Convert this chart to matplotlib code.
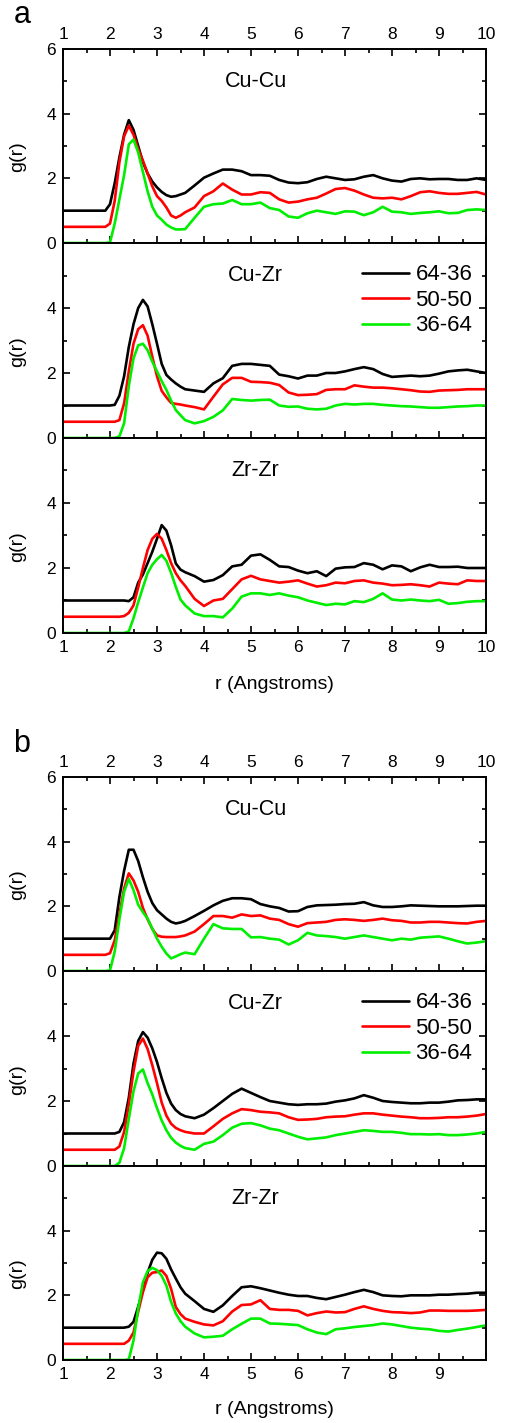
import numpy as np
import matplotlib
matplotlib.use('Agg')
import matplotlib.pyplot as plt
from matplotlib.ticker import MultipleLocator

plt.rcParams['font.family'] = ['Liberation Sans', 'DejaVu Sans']

# r grid (Angstroms) the curves were read at
r = [1.0, 1.9, 2.0, 2.1, 2.2, 2.3, 2.4, 2.5, 2.6, 2.7, 2.8, 2.9, 3.0, 3.1, 3.2, 3.3, 3.4, 3.5, 3.6,
     3.8, 4.0, 4.2, 4.4, 4.6, 4.8, 5.0, 5.2, 5.4, 5.6, 5.8, 6.0, 6.2, 6.4, 6.6, 6.8, 7.0,
     7.2, 7.4, 7.6, 7.8, 8.0, 8.2, 8.4, 8.6, 8.8, 9.0, 9.2, 9.4, 9.6, 9.8, 10.0]

labels = ['64-36', '50-50', '36-64']
colors = ['#000000', '#ff0000', '#00ee00']
pairs = ['Cu-Cu', 'Cu-Zr', 'Zr-Zr']

# ---- panel a ----
a_cucu_6436 = [1.0, 1.0, 1.2, 1.85, 2.65, 3.35, 3.8, 3.5, 3.0, 2.5, 2.15, 1.9, 1.72, 1.58, 1.48, 1.43, 1.45, 1.5, 1.55,
               1.78, 2.02, 2.15, 2.27, 2.27, 2.22, 2.1, 2.1, 2.08, 1.95, 1.87, 1.85, 1.88, 1.98, 2.05, 2.0, 1.95,
               1.97, 2.05, 2.1, 2.0, 1.93, 1.9, 1.98, 2.0, 1.97, 1.98, 1.98, 1.95, 1.95, 2.0, 1.95]
a_cucu_5050 = [0.5, 0.5, 0.6, 1.3, 2.5, 3.3, 3.63, 3.35, 2.9, 2.55, 2.15, 1.75, 1.45, 1.3, 1.1, 0.85, 0.78, 0.85, 0.95,
               1.1, 1.45, 1.6, 1.84, 1.65, 1.5, 1.5, 1.57, 1.55, 1.35, 1.25, 1.28, 1.35, 1.4, 1.53, 1.67, 1.7,
               1.62, 1.5, 1.4, 1.38, 1.4, 1.35, 1.45, 1.57, 1.6, 1.55, 1.52, 1.52, 1.55, 1.58, 1.5]
a_cucu_3664 = [0.0, 0.0, 0.02, 0.6, 1.35, 2.1, 3.05, 3.2, 2.8, 2.2, 1.6, 1.12, 0.85, 0.72, 0.57, 0.48, 0.42, 0.42, 0.43,
               0.78, 1.12, 1.2, 1.22, 1.33, 1.2, 1.2, 1.25, 1.08, 1.02, 0.82, 0.78, 0.92, 1.0, 0.95, 0.9, 0.98,
               0.97, 0.86, 0.95, 1.12, 0.97, 0.95, 0.9, 0.93, 0.95, 0.98, 0.92, 0.93, 1.02, 1.04, 1.02]

a_cuzr_6436 = [1.0, 1.0, 1.0, 1.02, 1.3, 1.9, 2.8, 3.5, 4.0, 4.25, 4.05, 3.5, 2.9, 2.28, 1.94, 1.8, 1.68, 1.58, 1.5,
               1.46, 1.42, 1.68, 1.84, 2.22, 2.28, 2.28, 2.25, 2.22, 1.95, 1.9, 1.83, 1.92, 1.92, 2.0, 2.0, 2.05,
               2.12, 2.18, 2.12, 1.97, 1.88, 1.9, 1.92, 1.9, 1.92, 1.98, 2.05, 2.08, 2.1, 2.05, 2.0]
a_cuzr_5050 = [0.5, 0.5, 0.5, 0.5, 0.55, 1.07, 2.05, 2.9, 3.35, 3.47, 3.15, 2.5, 1.9, 1.45, 1.25, 1.08, 1.05, 1.03, 1.0,
               0.95, 0.88, 1.27, 1.65, 1.85, 1.85, 1.73, 1.72, 1.7, 1.63, 1.4, 1.32, 1.33, 1.35, 1.48, 1.5, 1.5,
               1.62, 1.58, 1.55, 1.55, 1.53, 1.5, 1.47, 1.43, 1.42, 1.46, 1.47, 1.48, 1.5, 1.5, 1.5]
a_cuzr_3664 = [0.0, 0.0, 0.0, 0.0, 0.05, 0.45, 1.6, 2.45, 2.85, 2.9, 2.7, 2.35, 2.05, 1.75, 1.48, 1.15, 0.86, 0.7, 0.55,
               0.45, 0.52, 0.65, 0.85, 1.2, 1.17, 1.15, 1.17, 1.18, 1.0, 0.96, 0.97, 0.9, 0.88, 0.9, 1.0, 1.05,
               1.03, 1.05, 1.05, 1.02, 1.0, 0.98, 0.97, 0.95, 0.93, 0.93, 0.95, 0.97, 0.98, 1.0, 1.0]

a_zrzr_6436 = [1.0, 1.0, 1.0, 1.0, 1.0, 1.0, 0.98, 1.1, 1.55, 1.8, 2.15, 2.5, 2.9, 3.32, 3.15, 2.7, 2.14, 1.95, 1.87,
               1.75, 1.58, 1.63, 1.78, 2.05, 2.1, 2.38, 2.42, 2.25, 2.05, 2.03, 1.92, 1.84, 1.9, 1.75, 1.98, 2.02,
               2.03, 2.15, 2.1, 1.96, 2.08, 2.05, 1.9, 2.02, 2.1, 2.03, 2.03, 2.04, 2.0, 2.0, 2.0]
a_zrzr_5050 = [0.5, 0.5, 0.5, 0.5, 0.5, 0.52, 0.62, 0.85, 1.4, 2.0, 2.55, 2.9, 3.05, 2.9, 2.55, 2.15, 1.84, 1.62, 1.45,
               1.05, 0.83, 1.0, 1.05, 1.35, 1.65, 1.76, 1.65, 1.6, 1.55, 1.58, 1.62, 1.52, 1.43, 1.47, 1.55, 1.53,
               1.6, 1.62, 1.55, 1.52, 1.47, 1.48, 1.5, 1.47, 1.43, 1.55, 1.52, 1.5, 1.62, 1.6, 1.6]
a_zrzr_3664 = [0.0, 0.0, 0.0, 0.0, 0.0, 0.0, 0.05, 0.45, 0.95, 1.4, 1.84, 2.1, 2.27, 2.4, 2.22, 1.85, 1.42, 1.03, 0.85,
               0.6, 0.52, 0.52, 0.48, 0.75, 1.12, 1.22, 1.22, 1.17, 1.22, 1.15, 1.1, 1.0, 0.93, 0.86, 0.9, 0.88,
               0.98, 0.95, 1.05, 1.22, 1.03, 1.0, 1.03, 1.0, 0.98, 1.02, 0.9, 0.92, 0.96, 0.98, 0.98]

# ---- panel b ----
b_cucu_6436 = [1.0, 1.0, 1.0, 1.26, 2.29, 3.1, 3.75, 3.75, 3.4, 2.9, 2.45, 2.1, 1.88, 1.75, 1.62, 1.52, 1.47, 1.5, 1.55,
               1.7, 1.86, 2.03, 2.17, 2.25, 2.25, 2.22, 2.07, 2.0, 1.95, 1.84, 1.85, 1.98, 2.03, 2.04, 2.05, 2.07,
               2.08, 2.13, 2.03, 1.98, 1.98, 2.0, 2.03, 2.02, 2.01, 2.0, 2.0, 2.0, 2.01, 2.02, 2.02]
b_cucu_5050 = [0.5, 0.5, 0.55, 0.95, 1.75, 2.55, 3.02, 2.8, 2.45, 1.95, 1.6, 1.3, 1.1, 1.06, 1.05, 1.05, 1.05, 1.07, 1.1,
               1.22, 1.45, 1.7, 1.7, 1.65, 1.75, 1.7, 1.72, 1.62, 1.58, 1.45, 1.37, 1.48, 1.5, 1.52, 1.58, 1.6,
               1.58, 1.55, 1.58, 1.62, 1.57, 1.55, 1.5, 1.5, 1.52, 1.52, 1.5, 1.48, 1.47, 1.52, 1.55]
b_cucu_3664 = [0.0, 0.0, 0.02, 0.6, 1.6, 2.45, 2.85, 2.5, 2.05, 1.82, 1.62, 1.31, 1.0, 0.75, 0.54, 0.39, 0.45, 0.52, 0.57,
               0.52, 1.0, 1.45, 1.32, 1.3, 1.3, 1.04, 1.05, 1.0, 0.97, 0.82, 0.95, 1.18, 1.1, 1.08, 1.05, 1.0,
               1.05, 1.1, 1.05, 1.0, 0.95, 1.0, 0.97, 1.03, 1.05, 1.07, 1.0, 0.92, 0.85, 0.88, 0.92]

b_cuzr_6436 = [1.0, 1.0, 1.0, 1.0, 1.05, 1.35, 2.1, 3.15, 3.85, 4.12, 3.95, 3.62, 3.2, 2.7, 2.25, 1.92, 1.72, 1.6, 1.53,
               1.47, 1.58, 1.78, 2.0, 2.22, 2.38, 2.25, 2.12, 2.0, 1.95, 1.9, 1.88, 1.9, 1.9, 1.92, 1.98, 2.02,
               2.08, 2.18, 2.1, 2.0, 1.97, 1.95, 1.93, 1.93, 1.95, 1.95, 1.98, 2.02, 2.03, 2.05, 2.05]
b_cuzr_5050 = [0.5, 0.5, 0.5, 0.5, 0.6, 1.05, 1.9, 2.9, 3.7, 3.92, 3.6, 3.1, 2.55, 1.95, 1.55, 1.3, 1.17, 1.1, 1.05,
               1.0, 1.0, 1.22, 1.45, 1.62, 1.75, 1.72, 1.67, 1.65, 1.62, 1.5, 1.42, 1.43, 1.45, 1.5, 1.52, 1.53,
               1.58, 1.62, 1.62, 1.58, 1.55, 1.52, 1.5, 1.47, 1.47, 1.48, 1.5, 1.5, 1.52, 1.55, 1.6]
b_cuzr_3664 = [0.0, 0.0, 0.0, 0.0, 0.1, 0.55, 1.45, 2.3, 2.85, 2.97, 2.55, 2.2, 1.78, 1.4, 1.1, 0.87, 0.72, 0.62, 0.55,
               0.5, 0.68, 0.75, 0.95, 1.18, 1.3, 1.32, 1.25, 1.15, 1.1, 1.0, 0.9, 0.82, 0.85, 0.88, 0.95, 1.0,
               1.05, 1.1, 1.08, 1.05, 1.05, 1.02, 0.98, 0.98, 0.97, 0.98, 0.95, 0.95, 0.97, 1.0, 1.05]

b_zrzr_6436 = [1.0, 1.0, 1.0, 1.0, 1.0, 1.0, 1.03, 1.18, 1.65, 2.15, 2.7, 3.1, 3.32, 3.3, 3.13, 2.8, 2.52, 2.25, 2.05,
               1.82, 1.58, 1.49, 1.69, 1.98, 2.25, 2.28, 2.22, 2.15, 2.08, 2.02, 1.98, 1.98, 1.92, 1.88, 1.95, 2.02,
               2.1, 2.17, 2.1, 2.0, 1.98, 1.97, 2.0, 2.0, 2.0, 2.02, 2.02, 2.04, 2.05, 2.08, 2.08]
b_zrzr_5050 = [0.5, 0.5, 0.5, 0.5, 0.5, 0.5, 0.6, 0.85, 1.5, 2.1, 2.56, 2.7, 2.72, 2.77, 2.6, 2.2, 1.64, 1.42, 1.28,
               1.18, 1.1, 1.07, 1.2, 1.5, 1.7, 1.72, 1.85, 1.58, 1.55, 1.55, 1.52, 1.38, 1.45, 1.5, 1.47, 1.48,
               1.58, 1.66, 1.58, 1.52, 1.48, 1.47, 1.45, 1.47, 1.53, 1.53, 1.52, 1.52, 1.52, 1.53, 1.55]
b_zrzr_3664 = [0.0, 0.0, 0.0, 0.0, 0.0, 0.0, 0.02, 0.6, 1.6, 2.4, 2.75, 2.85, 2.78, 2.6, 2.3, 1.8, 1.44, 1.2, 1.03,
               0.82, 0.7, 0.72, 0.75, 0.95, 1.12, 1.28, 1.28, 1.13, 1.12, 1.1, 1.08, 0.95, 0.85, 0.8, 0.95, 0.98,
               1.02, 1.05, 1.08, 1.13, 1.1, 1.05, 1.0, 0.97, 0.95, 0.9, 0.88, 0.93, 0.97, 1.02, 1.07]

panel_a = [[a_cucu_6436, a_cucu_5050, a_cucu_3664],
           [a_cuzr_6436, a_cuzr_5050, a_cuzr_3664],
           [a_zrzr_6436, a_zrzr_5050, a_zrzr_3664]]
panel_b = [[b_cucu_6436, b_cucu_5050, b_cucu_3664],
           [b_cuzr_6436, b_cuzr_5050, b_cuzr_3664],
           [b_zrzr_6436, b_zrzr_5050, b_zrzr_3664]]

W, H = 507, 1423
fig = plt.figure(figsize=(W / 100, H / 100), dpi=100)

X0, X1 = 63, 486


def add_ax(top, bottom):
    return fig.add_axes([X0 / W, 1 - bottom / H, (X1 - X0) / W, (bottom - top) / H])


def draw_panel(edges, data, letter, letter_y, xlabel_y, last_labels):
    axes = []
    for i in range(3):
        ax = add_ax(edges[i], edges[i + 1])
        for series, lab, c in zip(data[i], labels, colors):
            ax.plot(r, series, color=c, lw=1.9, label=lab, solid_capstyle='round')
        ax.set_xlim(1, 10)
        ax.set_ylim(0, 6)
        ax.xaxis.set_major_locator(MultipleLocator(1))
        ax.xaxis.set_minor_locator(MultipleLocator(0.5))
        ax.set_yticks([0, 2, 4, 6])
        ax.yaxis.set_minor_locator(MultipleLocator(1))
        if i == 0:
            ax.set_yticklabels(['0', '2', '4', '6'])
        else:
            ax.set_yticklabels(['0', '2', '4', ''])
        ax.set_xticks(range(1, 11))
        if i == 2:
            ax.set_xticklabels(last_labels)
        else:
            ax.set_xticklabels([str(k) for k in range(1, 11)])
        ax.tick_params(which='both', direction='in', top=(i == 0), bottom=True,
                       left=True, right=True, labeltop=(i == 0), labelbottom=(i == 2),
                       labelsize=12.5, width=1.2, pad=5)
        ax.tick_params(which='major', length=5)
        ax.tick_params(which='minor', length=3)
        for s in ax.spines.values():
            s.set_linewidth(1.4)
        ax.set_ylabel('g(r)', fontsize=14)
        ax.yaxis.set_label_coords(-0.088, 0.445)
        ax.text(5.1, 5.0, pairs[i], ha='center', va='center', fontsize=15.5)
        if i == 1:
            ax.legend(loc='upper left', bbox_to_anchor=(0.707, 0.89), frameon=False,
                      fontsize=16, handlelength=2.1, handletextpad=0.3,
                      labelspacing=0.2, borderpad=0, borderaxespad=0)
        axes.append(ax)
    fig.text(22 / W, 1 - letter_y / H, letter, ha='center', va='baseline', fontsize=22)
    fig.text((X0 + X1) / 2 / W, 1 - xlabel_y / H, 'r (Angstroms)', ha='center', va='center',
             fontsize=14)
    return axes


draw_panel([49, 243, 438, 633], panel_a, 'a', 23, 684,
           [str(k) for k in range(1, 11)])
draw_panel([777, 971, 1166, 1360], panel_b, 'b', 752, 1410,
           [str(k) for k in range(1, 10)] + [''])

fig.savefig('out.png', dpi=100)
